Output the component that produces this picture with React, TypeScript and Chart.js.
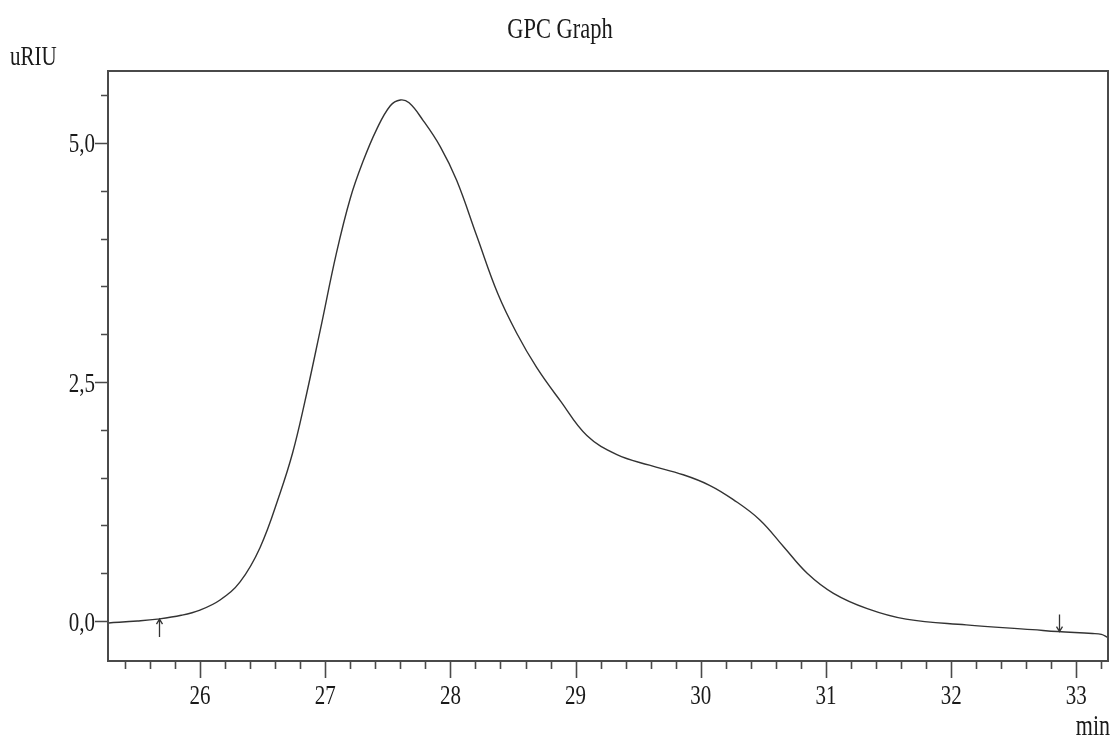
import React, { useEffect, useRef } from "react";
import { Chart, registerables } from "chart.js";

Chart.register(...registerables);

// Retention time (min) and detector response (uRIU)
const times: number[] = [
  25.27, 25.5, 25.66, 25.85, 26.0, 26.16, 26.32, 26.48, 26.64, 26.74, 26.83,
  26.96, 27.09, 27.2, 27.3, 27.41, 27.52, 27.6, 27.67, 27.78, 27.92, 28.05,
  28.21, 28.38, 28.53, 28.69, 28.88, 29.09, 29.33, 29.59, 29.86, 30.07, 30.26,
  30.47, 30.66, 30.85, 31.06, 31.33, 31.64, 32.12, 32.65, 32.85, 33.13, 33.2,
  33.25,
];
const signal: number[] = [
  -0.02, 0.0, 0.02, 0.06, 0.115, 0.22, 0.41, 0.77, 1.34, 1.76, 2.25, 3.04,
  3.85, 4.42, 4.8, 5.14, 5.39, 5.45, 5.42, 5.24, 4.96, 4.61, 4.03, 3.42, 3.01,
  2.65, 2.3, 1.94, 1.74, 1.63, 1.53, 1.42, 1.27, 1.06, 0.78, 0.5, 0.29, 0.13,
  0.02, -0.04, -0.09, -0.11, -0.13, -0.14, -0.17,
];

// Integration markers: time, direction and the signal at that time
const markerTimes: number[] = [25.67, 32.86];
const markerDirs: string[] = ["up", "down"];
const markerValues: number[] = [0.02, -0.11];

const xMin = 25.265;
const xMax = 33.253;
const yMin = -0.418;
const yMax = 5.753;

const titleText = "GPC Graph";
const yTitle = "uRIU";
const xTitle = "min";

const SERIF = '"Liberation Serif", "Times New Roman", serif';
const AXIS_COLOR = "#4a4a4a";
const TEXT_COLOR = "#1a1a1a";
const STRETCH = 1.32;

function drawText(
  ctx: CanvasRenderingContext2D,
  text: string,
  x: number,
  baseline: number,
  size: number,
  align: CanvasTextAlign
) {
  ctx.save();
  ctx.font = `${size}px ${SERIF}`;
  ctx.fillStyle = TEXT_COLOR;
  ctx.textAlign = align;
  ctx.textBaseline = "alphabetic";
  ctx.translate(x, baseline);
  ctx.scale(1, STRETCH);
  ctx.fillText(text, 0, 0);
  ctx.restore();
}

const isMajorX = (v: number) => Math.abs(v - Math.round(v)) < 1e-6;
const isMajorY = (v: number) => Math.abs(v / 2.5 - Math.round(v / 2.5)) < 1e-6;
const fmtY = (v: number) => Math.abs(v).toFixed(1).replace(".", ",");

const framePlugin = {
  id: "gpcFrame",
  afterDraw(chart: any) {
    const { ctx, chartArea, scales } = chart;
    const xs = scales.x;
    const ys = scales.y;
    ctx.save();
    // frame
    ctx.strokeStyle = AXIS_COLOR;
    ctx.lineWidth = 2;
    ctx.strokeRect(
      chartArea.left,
      chartArea.top,
      chartArea.right - chartArea.left,
      chartArea.bottom - chartArea.top
    );
    // x ticks
    ctx.lineWidth = 1.6;
    ctx.beginPath();
    xs.ticks.forEach((t: any) => {
      const px = Math.round(xs.getPixelForValue(t.value)) + 0.5;
      const len = isMajorX(t.value) ? 17 : 8;
      ctx.moveTo(px, chartArea.bottom);
      ctx.lineTo(px, chartArea.bottom + len);
    });
    // y ticks
    ys.ticks.forEach((t: any) => {
      const py = Math.round(ys.getPixelForValue(t.value)) + 0.5;
      const len = isMajorY(t.value) ? 13 : 7;
      ctx.moveTo(chartArea.left, py);
      ctx.lineTo(chartArea.left - len, py);
    });
    ctx.stroke();

    // markers (arrows)
    ctx.strokeStyle = "#333";
    ctx.lineWidth = 1.3;
    markerTimes.forEach((t, i) => {
      const px = Math.round(xs.getPixelForValue(t)) + 0.5;
      const py = ys.getPixelForValue(markerValues[i]);
      ctx.beginPath();
      if (markerDirs[i] === "up") {
        ctx.moveTo(px, py + 18);
        ctx.lineTo(px, py);
        ctx.moveTo(px - 3, py + 5);
        ctx.lineTo(px, py);
        ctx.lineTo(px + 3, py + 5);
      } else {
        ctx.moveTo(px, py - 17);
        ctx.lineTo(px, py);
        ctx.moveTo(px - 3, py - 5);
        ctx.lineTo(px, py);
        ctx.lineTo(px + 3, py - 5);
      }
      ctx.stroke();
    });
    ctx.restore();

    // tick labels
    xs.ticks.forEach((t: any) => {
      if (!isMajorX(t.value)) return;
      const px = xs.getPixelForValue(t.value);
      drawText(ctx, String(Math.round(t.value)), px, 704, 21, "center");
    });
    ys.ticks.forEach((t: any) => {
      if (!isMajorY(t.value)) return;
      const py = ys.getPixelForValue(t.value);
      drawText(ctx, fmtY(t.value), 95, py + 9.5, 21, "right");
    });

    // titles
    drawText(ctx, titleText, 560, 38, 22.5, "center");
    drawText(ctx, yTitle, 10, 65, 21, "left");
    drawText(ctx, xTitle, 1110, 735, 22, "right");
  },
};

export default function App() {
  const canvasRef = useRef<HTMLCanvasElement | null>(null);

  useEffect(() => {
    if (!canvasRef.current) return;
    const points = times.map((t, i) => ({ x: t, y: signal[i] }));
    const chart = new Chart(canvasRef.current, {
      type: "line",
      data: {
        datasets: [
          {
            label: "uRIU",
            data: points,
            borderColor: "#333333",
            borderWidth: 1.4,
            pointRadius: 0,
            fill: false,
            tension: 0.4,
          },
        ],
      },
      options: {
        animation: false,
        responsive: false,
        layout: { padding: { left: 0, right: 4, top: 71, bottom: 0 } },
        plugins: {
          legend: { display: false },
          tooltip: { enabled: false },
          title: { display: false, text: titleText },
        },
        scales: {
          x: {
            type: "linear",
            min: xMin,
            max: xMax,
            afterFit: (s: any) => {
              s.height = 75;
            },
            grid: { display: false },
            border: { display: false },
            title: { display: false, text: xTitle },
            ticks: {
              display: false,
              stepSize: 0.2,
              includeBounds: false,
              autoSkip: false,
              maxRotation: 0,
              callback: (v: any) => (isMajorX(Number(v)) ? String(Math.round(Number(v))) : ""),
            },
          },
          y: {
            type: "linear",
            min: yMin,
            max: yMax,
            afterFit: (s: any) => {
              s.width = 108;
            },
            grid: { display: false },
            border: { display: false },
            title: { display: false, text: yTitle },
            ticks: {
              display: false,
              stepSize: 0.5,
              includeBounds: false,
              autoSkip: false,
              callback: (v: any) => (isMajorY(Number(v)) ? fmtY(Number(v)) : ""),
            },
          },
        },
      },
      plugins: [framePlugin],
    } as any);
    return () => chart.destroy();
  }, []);

  return (
    <div
      style={{
        position: "fixed",
        left: 0,
        top: 0,
        width: 1112,
        height: 736,
        background: "#ffffff",
      }}
    >
      <canvas ref={canvasRef} width={1112} height={736} />
    </div>
  );
}
